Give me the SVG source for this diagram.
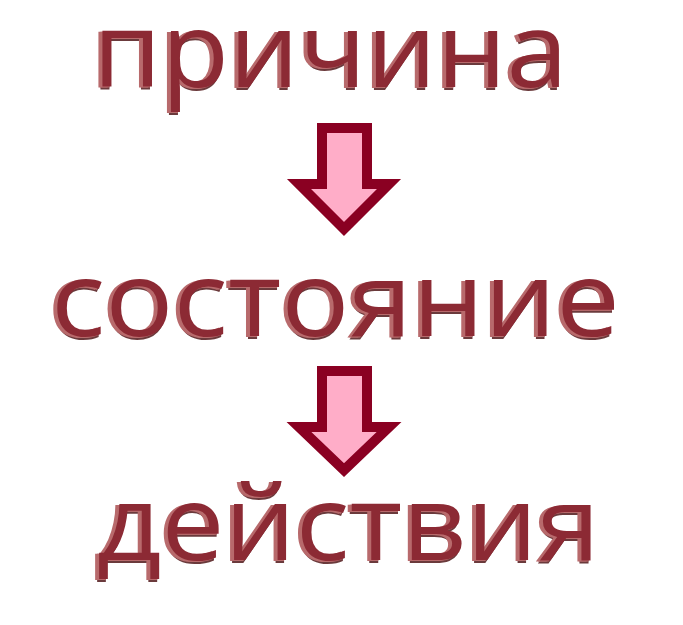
<svg xmlns="http://www.w3.org/2000/svg" xmlns:xlink="http://www.w3.org/1999/xlink" width="683" height="625" viewBox="0 0 683 625">
  <style>
    .w { font-family: "Open Sans", "Liberation Sans", sans-serif; font-size: 105px; font-weight: 500; }
    .dark { fill: #6b3a3c; }
    .light { fill: #b86a6c; }
    .face { fill: #8c2a34; }
    .arrow { fill: #ffadc8; stroke: #8a0022; stroke-width: 10; stroke-linejoin: miter; stroke-miterlimit: 10; }
  </style>
  <defs>
    <text id="t1" class="w" x="93" y="87" textLength="475" lengthAdjust="spacingAndGlyphs">причина</text>
    <text id="t2" class="w" x="51" y="336" textLength="569" lengthAdjust="spacingAndGlyphs">состояние</text>
    <text id="t3" class="w" x="97" y="560" textLength="503" lengthAdjust="spacingAndGlyphs">действия</text>
  </defs>
  <rect width="683" height="625" fill="#ffffff"/>
  <g id="node-prichina">
    <use xlink:href="#t1" class="dark" x="-2" y="3"/>
    <use xlink:href="#t1" class="light" x="-4" y="1"/>
    <use xlink:href="#t1" class="light" x="-2" y="0.5"/>
    <use xlink:href="#t1" class="face"/>
  </g>
  <g id="node-sostoyanie">
    <use xlink:href="#t2" class="dark" x="-2" y="3"/>
    <use xlink:href="#t2" class="light" x="-4" y="1"/>
    <use xlink:href="#t2" class="light" x="-2" y="0.5"/>
    <use xlink:href="#t2" class="face"/>
  </g>
  <g id="node-deystviya">
    <use xlink:href="#t3" class="dark" x="-2" y="3"/>
    <use xlink:href="#t3" class="light" x="-4" y="1"/>
    <use xlink:href="#t3" class="light" x="-2" y="0.5"/>
    <use xlink:href="#t3" class="face"/>
  </g>
  <g id="connectors">
    <polygon class="arrow" points="322,128 367,128 367,184 389,184 344,229 299,184 322,184"/>
    <polygon class="arrow" points="322,371 367,371 367,427 389,427 344,470 299,427 322,427"/>
  </g>
</svg>
